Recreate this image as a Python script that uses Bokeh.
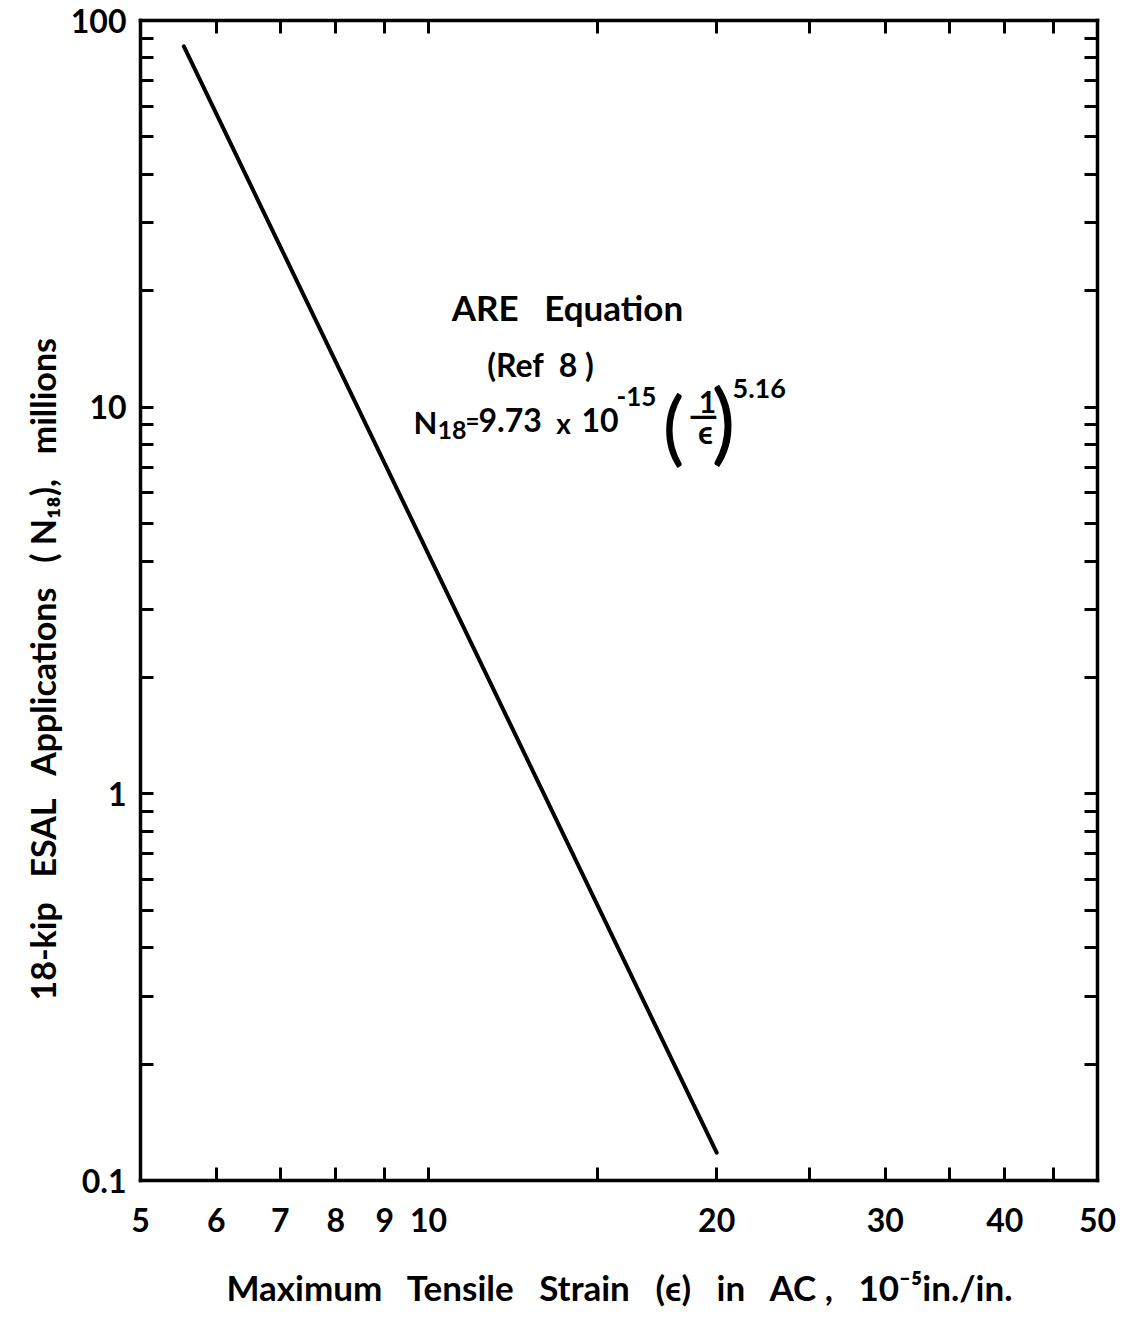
import numpy as np
from bokeh.plotting import figure
from bokeh.models import FixedTicker, LogAxis, Label, Title, Range1d
from bokeh.embed import file_html
from bokeh.resources import INLINE

# ---------------- data ----------------
strain = [5.55, 20.0]          # maximum tensile strain, 10^-5 in./in.
esal = [85.7, 0.118]           # 18-kip ESAL applications, millions

x_major = [5, 6, 7, 8, 9, 10, 20, 30, 40, 50]
x_minor = [15, 25, 35, 45]
x_labels = ["5", "6", "7", "8", "9", "10", "20", "30", "40", "50"]

y_major = [0.1, 1, 10, 100]
y_minor = [0.2, 0.3, 0.4, 0.5, 0.6, 0.7, 0.8, 0.9,
           2, 3, 4, 5, 6, 7, 8, 9,
           20, 30, 40, 50, 60, 70, 80, 90]
y_labels = ["0.1", "1", "10", "100"]

G = "\u00a0 \u00a0"     # wide word gap
x_title = (f"Maximum{G}Tensile{G}Strain{G}(ϵ){G}in{G}AC\u00a0,{G}"
           f"10⁻⁵in./in.")
y_title = f"18-kip{G}ESAL{G}Applications{G}(\u00a0N₁₈),{G}millions"

FONT = "Lato"

# ---------------- figure ----------------
p = figure(width=1123, height=1312, x_axis_type="log", y_axis_type="log",
           x_range=Range1d(5, 50), y_range=Range1d(0.1, 100),
           output_backend="svg", toolbar_location=None,
           min_border_left=140, min_border_top=20, min_border_right=26,
           min_border_bottom=132)
p.grid.visible = False
p.outline_line_color = None
p.background_fill_color = "white"
p.border_fill_color = "white"

top = LogAxis()
right = LogAxis()
p.add_layout(top, "above")
p.add_layout(right, "right")


def style(ax, ticks, minor, labels, show):
    ax.ticker = FixedTicker(ticks=ticks, minor_ticks=minor)
    ax.axis_line_width = 3.5
    ax.axis_line_color = "black"
    ax.axis_line_cap = "square"
    ax.major_tick_in = 13
    ax.major_tick_out = 0
    ax.minor_tick_in = 13
    ax.minor_tick_out = 0
    ax.major_tick_line_width = 3
    ax.minor_tick_line_width = 3
    ax.major_tick_line_color = "black"
    ax.minor_tick_line_color = "black"
    ax.major_label_overrides = {t: l for t, l in zip(ticks, labels)}
    if show:
        ax.major_label_text_font = FONT
        ax.major_label_text_font_style = "bold"
        ax.major_label_text_font_size = "32px"
        ax.major_label_text_color = "black"
    else:
        ax.major_label_text_font_size = "1px"
        ax.major_label_text_color = None
        ax.major_label_standoff = 0


style(p.below[0], x_major, x_minor, x_labels, True)
style(top, x_major, x_minor, x_labels, False)
style(p.left[0], y_major, y_minor, y_labels, True)
style(right, y_major, y_minor, y_labels, False)

p.below[0].major_label_standoff = 27
p.left[0].major_label_standoff = 14

p.below[0].axis_label = x_title
p.below[0].axis_label_text_font = FONT
p.below[0].axis_label_text_font_style = "bold"
p.below[0].axis_label_text_font_size = "35px"
p.below[0].axis_label_text_color = "black"
p.below[0].axis_label_standoff = 31

ylab = Title(text=y_title, align="left", offset=180, text_font=FONT,
             text_font_style="bold", text_font_size="34px",
             text_color="black", standoff=10)
p.add_layout(ylab, "left")

# ---------------- curve ----------------
p.line(strain, esal, line_width=4, line_color="black", line_cap="round")

# ---------------- annotation (placed by frame pixel position) ----------------
FL, FR, FT, FB = 140, 1097, 20, 1180


def at(px, py):
    x = 5 * 10 ** ((px - FL) / (FR - FL))
    y = 10 ** ((FB - py) / ((FB - FT) / 3.0) - 1)
    return x, y


def lab(text, px, py, size, align="left", style_="bold"):
    x, y = at(px, py)
    p.add_layout(Label(x=x, y=y, text=text, text_font=FONT,
                       text_font_style=style_, text_font_size=size,
                       text_align=align, text_baseline="middle",
                       text_color="black"))


lab("ARE\u00a0\u00a0 Equation", 567, 306, "35px", "center")
lab("(Ref\u00a0 8\u00a0)", 540, 364, "32px", "center")
lab("N", 413, 421, "31px")
lab("18", 437, 429, "25px")
lab("=", 465, 420, "24px")
lab("9.73", 478, 419, "32px")
lab("x", 563, 422, "28px", "center")
lab("10", 581, 419, "32px")
lab("-15", 616, 396, "26px")
lab("(", 673, 423, "82px", "center", "normal")
lab("1", 707, 401, "30px", "center")
lab("—", 703, 413, "38px", "center")
lab("ϵ", 705, 431, "32px", "center")
lab(")", 723, 418, "90px", "center", "normal")
lab("5.16", 732, 388, "27px")

open("out.html", "w").write(file_html(p, INLINE))
